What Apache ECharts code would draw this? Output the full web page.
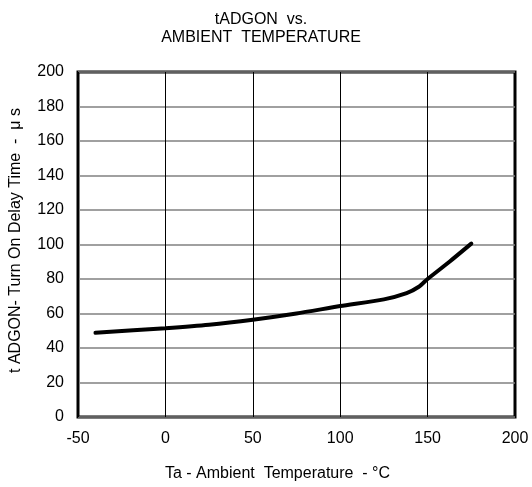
<!DOCTYPE html>
<html><head><meta charset="utf-8">
<script src="https://cdn.jsdelivr.net/npm/echarts@6/dist/echarts.min.js"></script>
<style>html,body{margin:0;padding:0;background:#fff}#c{width:532px;height:487px}</style>
</head><body><div id="c"></div>
<script>
const temps = [-40, 0, 25, 50, 75, 100, 125, 138, 145, 150, 162.5, 175];
const delay = [48.8, 51.5, 53.5, 56.4, 60, 64.3, 68.2, 71.8, 75.5, 80, 90, 100.5];
const xTicks = [-50, 0, 50, 100, 150, 200];
const yTicks = [0, 20, 40, 60, 80, 100, 120, 140, 160, 180, 200];
const font = 'Liberation Sans, Arial, sans-serif';
const chart = echarts.init(document.getElementById('c'));
chart.setOption({
  animation: false,
  title: {
    text: 'tADGON  vs.\nAMBIENT  TEMPERATURE',
    left: 256, top: 6, textAlign: 'center',
    textStyle: {fontFamily: font, fontSize: 16, fontWeight: 'normal', color: '#000', lineHeight: 18}
  },
  grid: {left: 78, right: 17, top: 72, bottom: 69, show: true, borderColor: '#000', borderWidth: 3, backgroundColor: 'transparent'},
  xAxis: {
    type: 'value', min: xTicks[0], max: xTicks[xTicks.length-1], interval: 50,
    name: 'Ta - Ambient  Temperature  - °C', nameLocation: 'middle', nameGap: 49,
    nameTextStyle: {fontFamily: font, fontSize: 16, color: '#000', padding: [0, 38, 0, 0]},
    axisLine: {show: false}, axisTick: {show: false},
    axisLabel: {fontFamily: font, fontSize: 16, color: '#000', margin: 14},
    splitLine: {show: true, lineStyle: {color: '#000', width: 1}}
  },
  yAxis: {
    type: 'value', min: yTicks[0], max: yTicks[yTicks.length-1], interval: 20,
    name: 't ADGON- Turn On Delay Time  -  μ s', nameLocation: 'middle', nameGap: 54,
    nameTextStyle: {fontFamily: font, fontSize: 16, color: '#000', padding: [0, 0, 0, 8]},
    axisLine: {show: false}, axisTick: {show: false},
    axisLabel: {fontFamily: font, fontSize: 16, color: '#000', margin: 14},
    splitLine: {show: true, lineStyle: {color: '#808080', width: 1.5}}
  },
  series: [{
    type: 'line', data: temps.map((t, i) => [t, delay[i]]), smooth: 0.25,
    showSymbol: false, lineStyle: {color: '#000', width: 4, cap: 'round'}
  }]
});
</script></body></html>
